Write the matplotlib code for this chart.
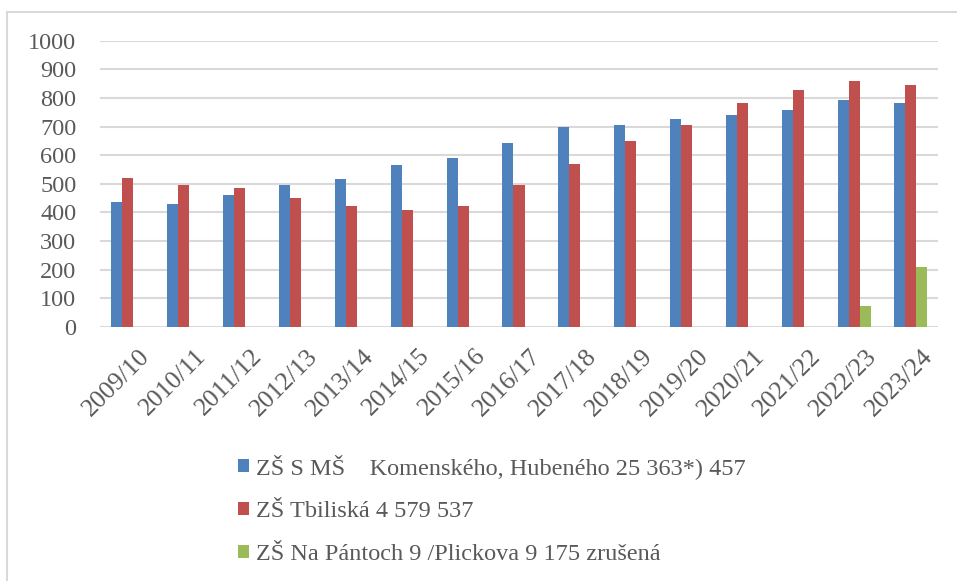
import numpy as np
import matplotlib.pyplot as plt
import matplotlib.transforms as mtransforms
from matplotlib.lines import Line2D

years = ['2009/10', '2010/11', '2011/12', '2012/13', '2013/14', '2014/15', '2015/16',
         '2016/17', '2017/18', '2018/19', '2019/20', '2020/21', '2021/22', '2022/23', '2023/24']
komenskeho = [435, 428, 460, 497, 516, 566, 590, 643, 699, 707, 726, 739, 758, 794, 784]
tbiliska = [520, 497, 484, 451, 424, 407, 424, 495, 569, 651, 706, 784, 827, 860, 844]
pantoch = [0, 0, 0, 0, 0, 0, 0, 0, 0, 0, 0, 0, 0, 75, 209]
labels = ['ZŠ S MŠ    Komenského, Hubeného 25 363*) 457',
          'ZŠ Tbiliská 4 579 537',
          'ZŠ Na Pántoch 9 /Plickova 9 175 zrušená']
colors = ['#4F81BD', '#C0504D', '#9BBB59']

plt.rcParams['font.family'] = ['Liberation Serif', 'DejaVu Serif']
txt = '#595959'

fig = plt.figure(figsize=(9.57, 5.81), dpi=100)
ax = fig.add_axes([100/957, 1-327/581, 838/957, 286.3/581])

x = np.arange(len(years))
w = 0.197
for i, (vals, c, lab) in enumerate(zip([komenskeho, tbiliska, pantoch], colors, labels)):
    ax.bar(x + (i-1)*w, vals, w, color=c, label=lab, zorder=3)

ax.set_xlim(-0.5, len(years)-0.5)
ax.set_ylim(0, 1000)
ax.set_yticks(range(0, 1001, 100))
ax.grid(axis='y', color='#D9D9D9', linewidth=1.5, zorder=0)
for s in ax.spines.values():
    s.set_visible(False)
ax.tick_params(length=0, colors=txt, labelsize=17.5)
ax.tick_params(axis='y', pad=17)
ax.set_xticks(x)
ax.set_xticklabels(years, rotation=45, ha='right', va='top', rotation_mode='anchor',
                   fontsize=18.5)
# shift rotated labels a bit right and down
off = mtransforms.ScaledTranslation(11/100, -13/100, fig.dpi_scale_trans)
for t in ax.get_xticklabels():
    t.set_transform(t.get_transform() + off)

# frame of the chart
fig.add_artist(Line2D([7/957, 1], [1-12/581, 1-12/581], color='#D9D9D9', lw=1.5))
fig.add_artist(Line2D([7/957, 7/957], [0, 1-12/581], color='#D9D9D9', lw=1.5))

fig.legend(loc='upper left', bbox_to_anchor=(226/957, 1-442/581), frameon=False,
           fontsize=17.5, labelcolor=txt, handlelength=0.45, handleheight=0.45,
           handletextpad=0.3, labelspacing=0.9, borderpad=0)

fig.savefig('out.png', dpi=100)
